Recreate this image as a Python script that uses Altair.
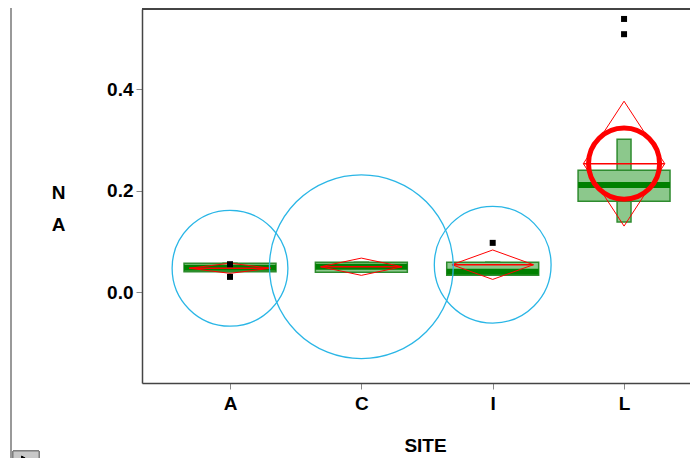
import altair as alt
import pandas as pd

# ---- data ----
sites = ["A", "C", "I", "L"]
site_pos = [1, 2, 3, 4]
means = [0.047, 0.050, 0.054, 0.253]
ci_half = [0.010, 0.017, 0.029, 0.123]
circle_r = [0.114, 0.181, 0.115, 0.070]
q1 = [0.040, 0.039, 0.033, 0.179]
median = [0.048, 0.050, 0.040, 0.211]
q3 = [0.057, 0.059, 0.059, 0.240]
whisk_lo = [0.040, 0.039, 0.033, 0.138]
whisk_hi = [0.057, 0.059, 0.059, 0.301]
pt_site = ["A", "A", "I", "L", "L"]
pt_val = [0.055, 0.030, 0.097, 0.508, 0.538]

# ---- layout constants ----
W, H = 556, 374
BOX_HW = 0.35
WHISK_HW = 0.053
DIA_HW = 0.31
FONT = "Liberation Sans"
PX_PER_UNIT = H / (0.5576 + 0.179)

pos_of = dict(zip(sites, site_pos))
summary = pd.DataFrame({
    "site": sites, "pos": site_pos, "mean": means, "ci": ci_half, "r": circle_r,
    "q1": q1, "median": median, "q3": q3, "wlo": whisk_lo, "whi": whisk_hi,
})
summary["bx0"] = summary["pos"] - BOX_HW
summary["bx1"] = summary["pos"] + BOX_HW
summary["wx0"] = summary["pos"] - WHISK_HW
summary["wx1"] = summary["pos"] + WHISK_HW
summary["dx0"] = summary["pos"] - DIA_HW
summary["dx1"] = summary["pos"] + DIA_HW
summary["sel"] = summary["site"] == "L"

rows = []
for s, p, m, h in zip(sites, site_pos, means, ci_half):
    verts = [(p - DIA_HW, m), (p, m + h), (p + DIA_HW, m), (p, m - h), (p - DIA_HW, m)]
    for k, (vx, vy) in enumerate(verts):
        rows.append({"site": s, "k": k, "x": vx, "y": vy})
diamond = pd.DataFrame(rows)

points = pd.DataFrame({"site": pt_site, "val": pt_val})
points["pos"] = points["site"].map(pos_of)

xscale = alt.Scale(domain=[0.33, 4.563], nice=False, zero=False)
yscale = alt.Scale(domain=[-0.179, 0.5576], nice=False, zero=False)

label_expr = "['', 'A', 'C', 'I', 'L'][datum.value]"
xaxis = alt.Axis(values=[1, 2, 3, 4], labelExpr=label_expr, title="SITE", grid=False,
                 tickSize=6, tickColor="#888888", domainColor="#444444", domainWidth=1.5,
                 labelFont=FONT, labelFontSize=19, labelFontWeight="bold", labelColor="black",
                 labelPadding=5, titleFont=FONT, titleFontSize=19, titleFontWeight="bold",
                 titleColor="black", titleX=283, titleY=62, titleBaseline="middle",
                 titleAnchor="start", titleAlign="center")
yaxis = alt.Axis(values=[0, 0.2, 0.4], format=".1f", title=["N", "A"], grid=False,
                 tickSize=6, tickColor="#888888", domainColor="#444444", domainWidth=1.5,
                 labelFont=FONT, labelFontSize=19, labelFontWeight="bold", labelColor="black",
                 labelPadding=3, titleFont=FONT, titleFontSize=19, titleFontWeight="bold",
                 titleColor="black", titleAngle=0, titleX=-84, titleY=183,
                 titleAlign="center", titleBaseline="middle", titleLineHeight=32)


def X(f):
    return alt.X(f, type="quantitative", scale=xscale, axis=xaxis)


def Y(f):
    return alt.Y(f, type="quantitative", scale=yscale, axis=yaxis)


base = alt.Chart(summary)

whisk = base.mark_rect(fill="#8cc88c", stroke="#2e8b2e", strokeWidth=1.5).encode(
    x=X("wx0"), x2="wx1", y=Y("wlo"), y2="whi")
box = base.mark_rect(fill="#8cc88c", stroke="#2e8b2e", strokeWidth=1.5).encode(
    x=X("bx0"), x2="bx1", y=Y("q1"), y2="q3")
med = base.mark_rule(color="#008000", strokeWidth=6).encode(
    x=X("bx0"), x2="bx1", y=Y("median"))

dia = alt.Chart(diamond).mark_line(color="#ff0000", strokeWidth=1).encode(
    x=X("x"), y=Y("y"), detail="site:N", order="k:Q")
mean_line = base.mark_rule(color="#ff0000", strokeWidth=1.5).encode(
    x=X("dx0"), x2="dx1", y=Y("mean"))

size_scale = alt.Scale(type="pow", exponent=2, domain=[0, 1],
                       range=[0, (2 * PX_PER_UNIT) ** 2])
circ_other = base.transform_filter("!datum.sel").mark_point(
    shape="circle", filled=False, color="#2ab6e6", strokeWidth=1.3, opacity=1).encode(
    x=X("pos"), y=Y("mean"), size=alt.Size("r:Q", scale=size_scale, legend=None))
circ_sel = base.transform_filter("datum.sel").mark_point(
    shape="circle", filled=False, color="#ff0000", strokeWidth=5, opacity=1).encode(
    x=X("pos"), y=Y("mean"), size=alt.Size("r:Q", scale=size_scale, legend=None))

pts = alt.Chart(points).mark_point(shape="square", filled=True, color="black",
                                   size=36, opacity=1).encode(
    x=X("pos"), y=Y("val"))

# decorations: top frame line, outer window border, play button
top_line = alt.Chart(summary).mark_rule(color="#444444", strokeWidth=1.5).encode(
    x=alt.value(0), x2=alt.value(W), y=alt.value(0))
outer = alt.Chart(summary).mark_rule(color="#999999", strokeWidth=1.5).encode(
    x=alt.value(-131), y=alt.value(-1), y2=alt.value(460))
btn = alt.Chart(summary).mark_rect(fill="#c8c8c8", stroke="#777777", strokeWidth=1).encode(
    x=alt.value(-129), x2=alt.value(-103), y=alt.value(442), y2=alt.value(470))
tri = alt.Chart(summary).mark_point(shape="triangle-right", filled=True, color="black",
                                    size=110, opacity=1).encode(
    x=alt.value(-116), y=alt.value(452))

chart = alt.layer(
    whisk, box, med, dia, mean_line, circ_other, pts, circ_sel,
    top_line, outer, btn, tri
).properties(
    width=W, height=H,
    autosize=alt.AutoSizeParams(type="none"),
    padding={"left": 134, "top": 1, "right": -8, "bottom": 75},
).configure_view(stroke=None).configure(background="white")

chart.save("out.html", embed_options={"renderer": "svg", "actions": False})
